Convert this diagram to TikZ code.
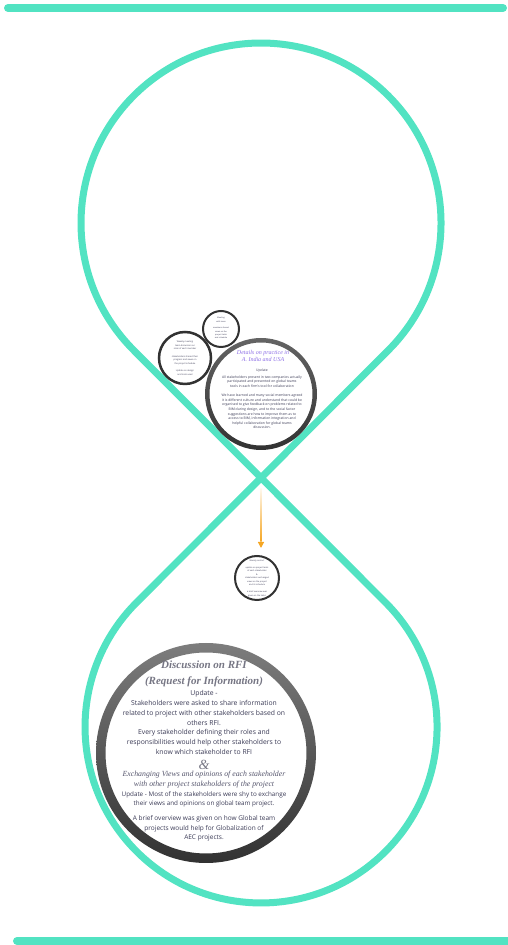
\documentclass[tikz,border=0pt]{standalone}
\usepackage{fontspec}
\setmainfont{Open Sans}
\newfontfamily\serifit{Liberation Serif}
\usetikzlibrary{arrows.meta}
\definecolor{mint}{RGB}{82,227,194}
\definecolor{txtdark}{RGB}{58,58,85}
\definecolor{headgray}{RGB}{118,118,132}
\definecolor{lilac}{RGB}{140,110,230}
\definecolor{arroworange}{RGB}{245,166,35}
\definecolor{ringdark}{RGB}{50,50,50}
\definecolor{ringlight}{RGB}{125,125,125}
\begin{document}
\begin{tikzpicture}[x=1pt,y=1pt,
  loopline/.style={draw=mint,line width=7pt,line join=round},
  bar/.style={draw=mint,line width=8pt,line cap=round},
  disc/.style={circle,fill=white,draw=none,inner sep=0pt},
  thinring/.style={circle,fill=white,draw=ringdark,inner sep=0pt},
  bodytext/.style={text=txtdark,align=center,inner sep=0pt,font=\fontsize{6.8}{9.8}\selectfont},
  headtext/.style={text=headgray,align=center,inner sep=0pt,font=\serifit\bfseries\itshape\fontsize{11}{16}\selectfont},
  ittext/.style={text=txtdark!85,align=center,inner sep=0pt,font=\serifit\itshape\fontsize{7.8}{10}\selectfont},
  tinytext/.style={text=txtdark,align=center,inner sep=0pt},
  arrowhead/.style={draw=arroworange,line width=1.2pt,-{Triangle[width=6pt,length=6pt]}}
]
\useasboundingbox (0,0) rectangle (508,945);

% top and bottom bars
\coordinate (tbL) at (8,937);
\coordinate (tbR) at (503,937);
\coordinate (bbL) at (17,4);
\coordinate (bbR) at (520,4);
\draw[bar] (tbL) -- (tbR);
\draw[bar] (bbL) -- (bbR);

% figure eight
\coordinate (topc) at (261,722);
\coordinate (botc) at (261,218);
\coordinate (cross) at (261,467.5);
\draw[loopline] (388.3,594.7) arc[start angle=-45,end angle=225,radius=180pt]
  -- (385.5,342.5) arc[start angle=45,end angle=-225,radius=176pt] -- cycle;

% main RFI circle
\node[disc,minimum size=219pt] (rfi) at (206,192) {};
\shade[top color=ringlight,bottom color=ringdark,even odd rule]
  (rfi.center) circle[radius=110pt] circle[radius=100.5pt];

\node[headtext] (rfihead) at (204,271) {Discussion on RFI\\(Request for Information)};
\node[bodytext] (rfiupd) at (204,222.5) {Update -\\Stakeholders were asked to share information\\related to project with other stakeholders based on\\others RFI.\\Every stakeholder defining their roles and\\responsibilities would help other stakeholders to\\know which stakeholder to RFI};
\node[text=headgray,inner sep=0pt,font=\serifit\itshape\fontsize{14}{14}\selectfont] (amp) at (204,180) {\&};
\node[ittext] (rfiex) at (204,165) {Exchanging Views and opinions of each stakeholder\\with other project stakeholders of the project};
\node[bodytext,font=\fontsize{6.3}{9}\selectfont] (rfiupd2) at (204,145.5) {Update - Most of the stakeholders were shy to exchange\\their views and opinions on global team project.};
\node[bodytext,font=\fontsize{6.5}{9.5}\selectfont] (rfibrief) at (204,116.5) {A brief overview was given on how Global team\\projects would help for Globalization of\\AEC projects.};

% medium circle
\node[disc,minimum size=112pt] (med) at (261,551) {};
\shade[top color=ringlight!80!black,bottom color=ringdark,even odd rule]
  (med.center) circle[radius=56pt] circle[radius=51.5pt];
\node[text=lilac,align=center,inner sep=0pt,font=\serifit\itshape\fontsize{6}{7.5}\selectfont] (medhead) at (263,589) {Details on practice in\\A. India and USA};
\node[tinytext,font=\fontsize{3.4}{4.5}\selectfont] (medupd) at (262,574) {Update};
\node[tinytext,font=\fontsize{3.4}{4.5}\selectfont] (medp1) at (262,563.5) {All stakeholders present in two companies actually\\participated and presented on global teams\\tools in each firm's tool for collaboration};
\node[tinytext,font=\fontsize{3.4}{4.6}\selectfont] (medp2) at (262,533.5) {We have learned and many social members agreed\\it is different culture and understand that could be\\organised to give feedback on problems related to\\BIM during design, and to the social factor\\suggestions are how to improve them as to\\access to BIM, information integration and\\helpful collaboration for global teams\\discussion.};

% small left circle
\node[thinring,line width=2.5pt,minimum size=52pt] (sml) at (185,587) {};
\node[tinytext,font=\fontsize{2.2}{3.6}\selectfont] (smltext) at (185,587) {Weekly meeting\\team discussion on\\roles of each member\\\\stakeholders shared their\\progress and views on\\the project schedule\\\\Update on design\\and tools used};

% tiny top circle
\node[thinring,line width=2pt,minimum size=36pt] (tiny) at (221,616) {};
\node[tinytext,font=\fontsize{2}{3.3}\selectfont] (tinytext) at (221,617) {Meeting\\with team\\\\members shared\\views on the\\project tasks\\and schedule};

% small circle below crossing
\node[thinring,line width=2pt,minimum size=44pt] (low) at (257,367) {};
\node[tinytext,font=\fontsize{2.1}{3.5}\selectfont] (lowtext) at (257,367) {Weekly contact\\\\update on project tasks\\of each stakeholder\\\&\\stakeholders exchanged\\views on the project\\and its schedule\\\\a brief overview was\\given on the tasks};

% orange arrow (fading stem + head)
\coordinate (arrA) at ([yshift=-11pt]cross);
\coordinate (arrB) at ([yshift=7pt]cross |- low.north);
\coordinate (arrM) at ([yshift=6pt]arrB);
\shade[top color=arroworange!8,bottom color=arroworange]
  ([xshift=-0.6pt]arrA) rectangle ([xshift=0.6pt]arrM);
\draw[arrowhead] (arrM) -- (arrB);
\end{tikzpicture}
\end{document}
